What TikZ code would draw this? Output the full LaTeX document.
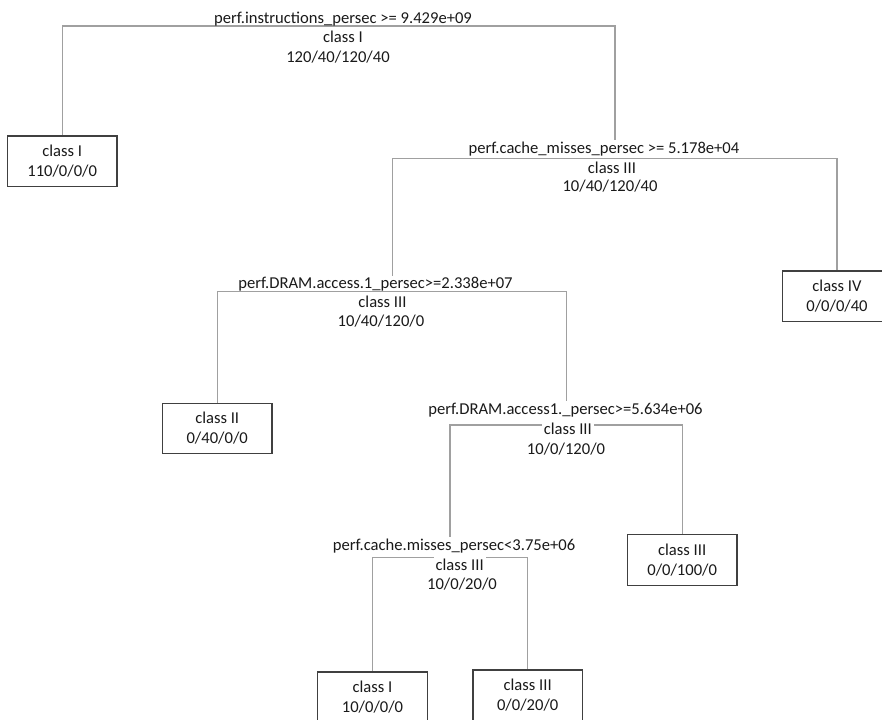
\documentclass[tikz,border=0pt]{standalone}
\usepackage{fontspec}
\setmainfont{Carlito}
\definecolor{linegray}{HTML}{A0A0A0}
\definecolor{boxgray}{HTML}{404040}
\definecolor{txt}{HTML}{1A1A1A}
\pgfdeclarelayer{bg}
\pgfsetlayers{bg,main}
\begin{document}
\begin{tikzpicture}[x=0.75pt,y=-0.75pt,
  every node/.style={font=\fontsize{12.45}{15}\selectfont, text=txt},
  cond/.style={anchor=base, inner sep=1pt},
  lbl/.style={anchor=base, fill=white, inner sep=1.5pt},
  leaf/.style={draw=boxgray, line width=1pt, fill=white, align=center,
    minimum width=82.1pt, minimum height=37.9pt, inner sep=0pt},
  branch/.style={draw=linegray, line width=1pt}]
\useasboundingbox (0,0) rectangle (882,720);
\clip (0,0) rectangle (882,720);

% root
\node[cond] (n1c) at (343,23.5) {perf.instructions\_persec >= 9.429e+09};
\node[lbl]  (n1k) at (343,43) {class I};
\node[lbl]  (n1n) at (338,63) {120/40/120/40};
\node[leaf] (l1) at (62.2,161.3) {class I\\110/0/0/0};

% node 2
\node[cond] (n2c) at (604,153.5) {perf.cache\_misses\_persec >= 5.178e+04};
\node[lbl]  (n2k) at (612,173.5) {class III};
\node[lbl]  (n2n) at (610,192) {10/40/120/40};
\node[leaf] (l3) at (837,296.3) {class IV\\0/0/0/40};

% node 3
\node[cond] (n3c) at (375.5,288.5) {perf.DRAM.access.1\_persec>=2.338e+07};
\node[lbl]  (n3k) at (382.5,307.8) {class III};
\node[lbl]  (n3n) at (381,326.8) {10/40/120/0};
\node[leaf] (l2) at (217.2,428.5) {class II\\0/40/0/0};

% node 4
\node[cond] (n4c) at (565.5,414) {perf.DRAM.access1.\_persec>=5.634e+06};
\node[lbl]  (n4k) at (567.8,434) {class III};
\node[lbl]  (n4n) at (566,454.7) {10/0/120/0};
\node[leaf] (l4) at (682.2,560) {class III\\0/0/100/0};

% node 5
\node[cond] (n5c) at (454,550) {perf.cache.misses\_persec<3.75e+06};
\node[lbl]  (n5k) at (459.7,570) {class III};
\node[lbl]  (n5n) at (462,589.7) {10/0/20/0};
\node[leaf] (l5) at (372.5,697.3) {class I\\10/0/0/0};
\node[leaf] (l6) at (527.7,695.3) {class III\\0/0/20/0};

% bracket corners
\coordinate (b1l) at (62.2,26);   \coordinate (b1r) at (615,26);
\coordinate (b2l) at (392.3,158.5); \coordinate (b2r) at (837,158.5);
\coordinate (b3l) at (217.2,291.7); \coordinate (b3r) at (566.5,291.7);
\coordinate (b4l) at (450,425);   \coordinate (b4r) at (682.2,425);
\coordinate (b5l) at (372.5,557.7); \coordinate (b5r) at (527.7,557.7);

\begin{pgfonlayer}{bg}
\fill[white] (0,0) rectangle (882,720);
\draw[branch] (l1.north) -- (b1l) -- (b1r) -- (b1r |- n2c.north);
\draw[branch] (b2l |- n3c.north) -- (b2l) -- (b2r) -- (l3.north);
\draw[branch] (l2.north) -- (b3l) -- (b3r) -- (b3r |- n4c.north);
\draw[branch] (b4l |- n5c.north) -- (b4l) -- (b4r) -- (l4.north);
\draw[branch] (l5.north) -- (b5l) -- (b5r) -- (l6.north);
\end{pgfonlayer}
\end{tikzpicture}
\end{document}
